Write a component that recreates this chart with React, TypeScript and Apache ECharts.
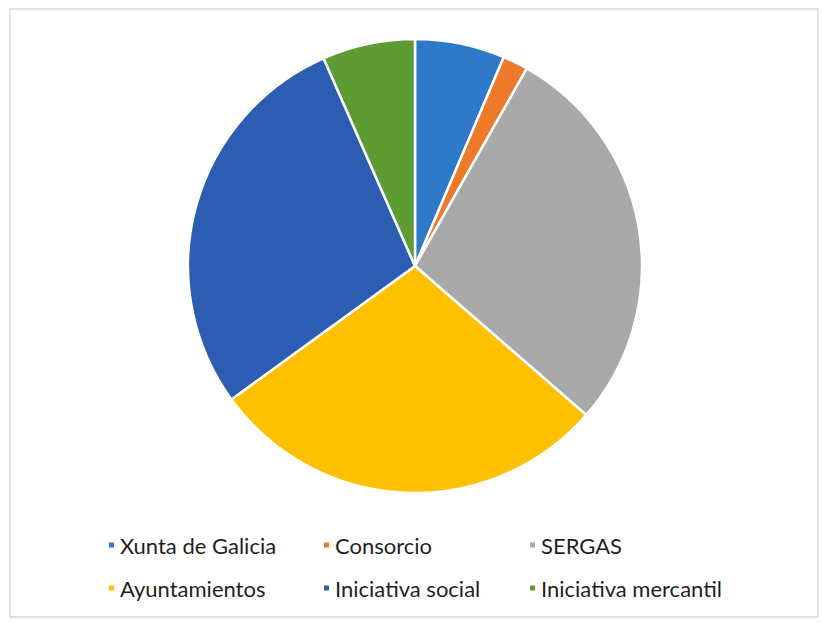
import React, { useEffect, useRef } from "react";
import * as echarts from "echarts";

const categories = [
  "Xunta de Galicia",
  "Consorcio",
  "SERGAS",
  "Ayuntamientos",
  "Iniciativa social",
  "Iniciativa mercantil",
];
const values = [6.4, 1.8, 28.2, 28.6, 28.4, 6.6];
const colors = ["#2F79C9", "#EC7A2A", "#A9A9A9", "#FFC000", "#2C5DB3", "#5E9C33"];

const legendColumns = [
  { left: 102, names: [categories[0], categories[3]] },
  { left: 317, names: [categories[1], categories[4]] },
  { left: 523, names: [categories[2], categories[5]] },
];

export default function App() {
  const ref = useRef<HTMLDivElement>(null);
  useEffect(() => {
    if (!ref.current) return;
    const chart = echarts.init(ref.current, undefined, { renderer: "svg" });
    chart.setOption({
      animation: false,
      backgroundColor: "#ffffff",
      color: colors,
      graphic: [
        {
          type: "rect",
          shape: { x: 10, y: 9, width: 808, height: 608 },
          style: { fill: "none", stroke: "#dadada", lineWidth: 1.5 },
          silent: true,
        },
      ],
      legend: legendColumns.map((col) => ({
        orient: "vertical",
        left: col.left,
        top: 529,
        data: col.names,
        icon: "rect",
        itemWidth: 7,
        itemHeight: 7,
        itemGap: 21,
        selectedMode: false,
        textStyle: {
          fontFamily: "Lato, 'Open Sans', sans-serif",
          fontSize: 22,
          color: "#1f1f1f",
          padding: [0, 0, 0, 0],
        },
      })),
      series: [
        {
          type: "pie",
          center: [415, 266],
          radius: 227,
          startAngle: 90,
          clockwise: true,
          label: { show: false },
          labelLine: { show: false },
          itemStyle: { borderColor: "#ffffff", borderWidth: 2.5 },
          data: categories.map((name, i) => ({ name, value: values[i] })),
        },
      ],
    });
    return () => chart.dispose();
  }, []);
  return (
    <div
      ref={ref}
      style={{ position: "fixed", left: 0, top: 0, width: 823, height: 623 }}
    />
  );
}
